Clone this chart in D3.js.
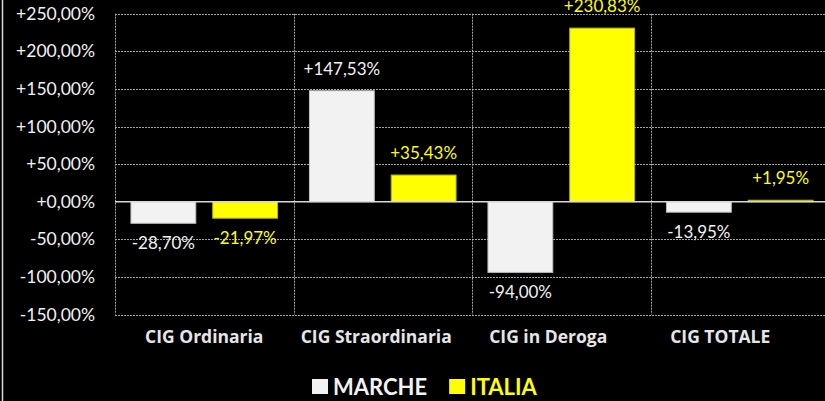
<!DOCTYPE html>
<html>
<head>
<meta charset="utf-8">
<script src="https://cdn.jsdelivr.net/npm/d3@7"></script>
<style>
  html, body { margin: 0; padding: 0; background: #000; }
  svg { display: block; }
</style>
</head>
<body>
<script>
const categories = ["CIG Ordinaria", "CIG Straordinaria", "CIG in Deroga", "CIG TOTALE"];
const seriesNames = ["MARCHE", "ITALIA"];
const marche = [-28.70, 147.53, -94.00, -13.95];
const italia = [-21.97, 35.43, 230.83, 1.95];
const yTicks = [-150, -100, -50, 0, 50, 100, 150, 200, 250];
const seriesColors = ["#f2f2f2", "#ffff00"];
const seriesStroke = ["#bfbfbf", "#b8b800"];
const labelColors = ["#f2f2f2", "#ffff00"];

const W = 825, H = 401;
const font = "Lato, 'Open Sans', sans-serif";
const catFont = "'Open Sans', Lato, sans-serif";

const locale = d3.formatLocale({decimal: ",", thousands: ".", grouping: [3], currency: ["", "€"], minus: "-"});
const fmt = locale.format("+.2f");
const pct = v => fmt(v) + "%";

const svg = d3.select("body").append("svg").attr("width", W).attr("height", H)
  .style("background", "#000");

// chart-area left border
svg.append("line").attr("x1", 2.5).attr("x2", 2.5).attr("y1", 0).attr("y2", H)
  .attr("stroke", "#d9d9d9").attr("stroke-width", 1.5);

const x0 = d3.scaleBand().domain(categories).range([115, 829]).paddingInner(0).paddingOuter(0);
const x1 = d3.scaleBand().domain(seriesNames).range([0, x0.bandwidth()])
  .paddingInner(17 / 82).paddingOuter(16 / 82);
const y = d3.scaleLinear().domain([-150, 250]).range([314.5, 13.7]);

// horizontal gridlines
svg.append("g").selectAll("line").data(yTicks.filter(t => t !== 0)).join("line")
  .attr("x1", x0.range()[0]).attr("x2", x0.range()[1])
  .attr("y1", d => Math.round(y(d)) + 0.5).attr("y2", d => Math.round(y(d)) + 0.5)
  .attr("stroke", "#a6a6a6").attr("stroke-width", 1).attr("stroke-dasharray", "2,1");

// vertical gridlines
const vx = categories.map(c => x0(c)).concat([x0.range()[1]]);
svg.append("g").selectAll("line").data(vx).join("line")
  .attr("x1", d => Math.round(d) + 0.5).attr("x2", d => Math.round(d) + 0.5)
  .attr("y1", y(250)).attr("y2", y(-150))
  .attr("stroke", "#a6a6a6").attr("stroke-width", 1).attr("stroke-dasharray", "2,1");

// y axis
const yAxis = svg.append("g").attr("transform", "translate(115,0)")
  .call(d3.axisLeft(y).tickValues(yTicks).tickFormat(pct).tickSize(0).tickPadding(20));
yAxis.select(".domain").remove();
yAxis.selectAll("text").attr("fill", "#f2f2f2").style("font-family", font).style("font-size", "17.5px");

// bars
const data = categories.map((c, i) => ({cat: c, vals: [marche[i], italia[i]]}));
const groups = svg.append("g").selectAll("g").data(data).join("g")
  .attr("transform", d => `translate(${x0(d.cat)},0)`);

groups.selectAll("rect").data(d => d.vals.map((v, j) => ({v, s: seriesNames[j], j}))).join("rect")
  .attr("x", d => x1(d.s)).attr("width", x1.bandwidth())
  .attr("y", d => y(Math.max(0, d.v))).attr("height", d => Math.abs(y(d.v) - y(0)))
  .attr("fill", d => seriesColors[d.j]).attr("stroke", d => seriesStroke[d.j]).attr("stroke-width", 1);

// zero line
svg.append("line").attr("x1", x0.range()[0]).attr("x2", x0.range()[1])
  .attr("y1", y(0)).attr("y2", y(0)).attr("stroke", "#d9d9d9").attr("stroke-width", 1.5);

// value labels
groups.selectAll("text.val").data(d => d.vals.map((v, j) => ({v, s: seriesNames[j], j}))).join("text")
  .attr("class", "val")
  .attr("x", d => x1(d.s) + x1.bandwidth() / 2)
  .attr("y", d => d.v >= 0 ? y(d.v) - 16 : y(d.v) + 26)
  .attr("text-anchor", "middle")
  .attr("fill", d => labelColors[d.j])
  .style("font-family", font).style("font-size", "17px")
  .text(d => pct(d.v));

// category labels
svg.append("g").selectAll("text").data(categories).join("text")
  .attr("x", (d, i) => x0(d) + x0.bandwidth() / 2 - i * 6.5)
  .attr("y", 343)
  .attr("text-anchor", "middle")
  .attr("fill", "#e6e6e6")
  .style("font-family", catFont).style("font-size", "17.5px").style("font-weight", "bold")
  .text(d => d);

// legend
const legend = svg.append("g").attr("transform", "translate(312,379)");
let lx = 0;
seriesNames.forEach((s, i) => {
  const g = legend.append("g").attr("transform", `translate(${lx},0)`);
  g.append("rect").attr("x", 0).attr("y", 0).attr("width", 16).attr("height", 15)
    .attr("fill", seriesColors[i]);
  const t = g.append("text").attr("x", 21).attr("y", 15.5)
    .attr("fill", labelColors[i])
    .style("font-family", font).style("font-size", "22px").style("font-weight", "bold")
    .text(s);
  lx += 21 + t.node().getComputedTextLength() + 22;
});
</script>
</body>
</html>
